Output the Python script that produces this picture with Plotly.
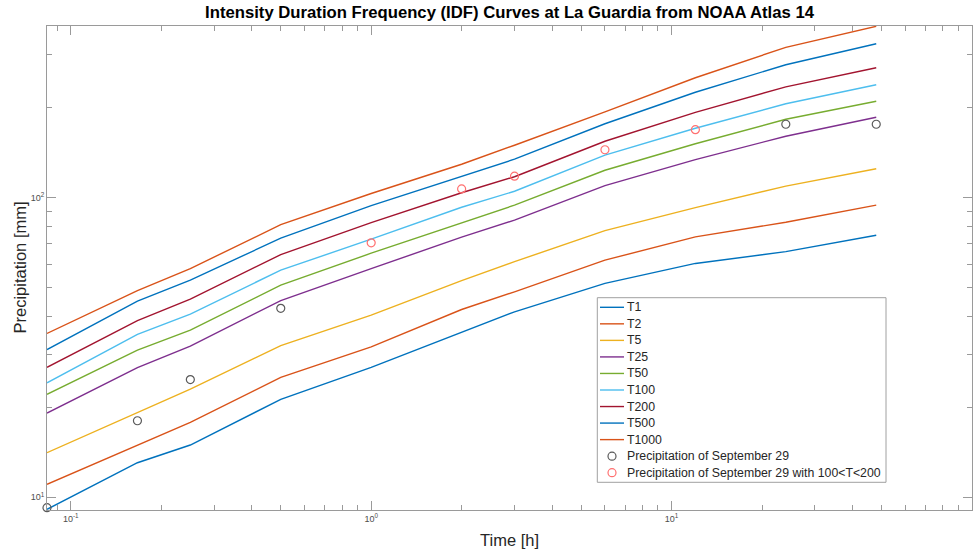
import math
import plotly.graph_objects as go

# ---------------- data ----------------
durations_h = [0.08333, 0.16667, 0.25, 0.5, 1, 2, 3, 6, 12, 24, 48]

T1 = [9.12, 13.04, 14.94, 21.22, 27.13, 35.5, 41.57, 51.68, 60.26, 65.96, 74.85]
T2 = [11.05, 14.94, 17.78, 25.12, 31.77, 42.3, 48.45, 61.8, 73.9, 82.7, 94.3]
T5 = [14.09, 19.25, 22.96, 32.06, 40.53, 52.8, 61.1, 77.5, 92.5, 109.1, 124.7]
T25 = [19.10, 27.09, 31.94, 45.29, 57.91, 73.74, 84.03, 109.5, 133.7, 160.1, 185.2]
T50 = [22.05, 30.97, 36.12, 51.02, 65.2, 82.4, 94.3, 123.3, 151.1, 182.4, 209.4]
T100 = [24.10, 34.94, 40.83, 57.25, 72.6, 92.8, 104.9, 138.4, 170.2, 205.4, 237.7]
T200 = [27.13, 38.85, 45.81, 64.48, 82.4, 103.7, 117.3, 154.0, 192.4, 234.0, 270.8]
T500 = [31.09, 45.12, 53.0, 73.17, 93.91, 117.3, 134.2, 176.2, 224.4, 277.2, 325.6]
T1000 = [35.21, 48.9, 57.91, 81.15, 103.1, 129.1, 149.4, 192.9, 250.8, 316.9, 372.4]

series_names = ["T1", "T2", "T5", "T25", "T50", "T100", "T200", "T500", "T1000"]
series_values = [T1, T2, T5, T25, T50, T100, T200, T500, T1000]
series_colors = ["#0072BD", "#D95319", "#EDB120", "#7E2F8E", "#77AC30",
                 "#4DBEEE", "#A2142F", "#0072BD", "#D95319"]

obs_black_durations = [0.08333, 0.16667, 0.25, 0.5, 24, 48]
obs_black_mm = [9.23, 18.0, 24.7, 42.7, 175.5, 175.5]
obs_red_durations = [1, 2, 3, 6, 12]
obs_red_mm = [70.6, 106.8, 117.8, 144.3, 168.3]

obs_names = ["Precipitation of September 29",
             "Precipitation of September 29 with 100<T<200"]
obs_colors = ["#5a5a5a", "#ff7070"]

x_tick_vals = [0.1, 1, 10, 100]
x_tick_text = ["10<sup>-1</sup>", "10<sup>0</sup>", "10<sup>1</sup>", "10<sup>2</sup>"]
x_minor_vals = [0.09, 0.2, 0.3, 0.4, 0.5, 0.6, 0.7, 0.8, 0.9,
                2, 3, 4, 5, 6, 7, 8, 9, 20, 30, 40, 50, 60, 70, 80, 90]
y_tick_vals = [10, 100]
y_tick_text = ["10<sup>1</sup>", "10<sup>2</sup>"]
y_minor_vals = [20, 30, 40, 50, 60, 70, 80, 90, 200, 300]

x_limits = [0.08333, 100]
y_limits = [9.07, 373.3]

# ---------------- layout constants ----------------
W, H = 979, 551
ML, MR, MT, MB = 47, 7, 26, 41
PW = W - ML - MR
PH = H - MT - MB
FONT = "Liberation Sans, Arial, Helvetica, sans-serif"
AXCOL = "#9a9a9a"
LEG_FONT = 12.3


def px_x(px):
    return (px - ML) / PW


def px_y(py):
    return (H - MB - py) / PH


fig = go.Figure()

for name, vals, col in zip(series_names, series_values, series_colors):
    fig.add_trace(go.Scatter(x=durations_h, y=vals, mode="lines", name=name,
                             line=dict(color=col, width=1.4), showlegend=False))

fig.add_trace(go.Scatter(x=obs_black_durations, y=obs_black_mm, mode="markers",
                         name=obs_names[0], showlegend=False, cliponaxis=False,
                         marker=dict(symbol="circle-open", size=8,
                                     color=obs_colors[0], line=dict(width=1.2))))
fig.add_trace(go.Scatter(x=obs_red_durations, y=obs_red_mm, mode="markers",
                         name=obs_names[1], showlegend=False, cliponaxis=False,
                         marker=dict(symbol="circle-open", size=8,
                                     color=obs_colors[1], line=dict(width=1.2))))

# ---------------- custom legend (MATLAB style) ----------------
shapes = []
annotations = []
LEG_X0, LEG_X1, LEG_Y0, LEG_Y1 = 597.3, 886, 297.7, 482.3
ROW0, DROW = 307.3, 16.54
shapes.append(dict(type="rect", xref="paper", yref="paper", layer="above",
                   x0=px_x(LEG_X0), x1=px_x(LEG_X1), y0=px_y(LEG_Y1), y1=px_y(LEG_Y0),
                   line=dict(color="#a0a0a0", width=1), fillcolor="white"))
row = 0
for name, col in zip(series_names, series_colors):
    yy = px_y(ROW0 + row * DROW)
    shapes.append(dict(type="line", xref="paper", yref="paper", layer="above",
                       x0=px_x(600), x1=px_x(624), y0=yy, y1=yy,
                       line=dict(color=col, width=1.4)))
    annotations.append(dict(xref="paper", yref="paper", x=px_x(625), y=yy,
                            xanchor="left", yanchor="middle", showarrow=False,
                            text=name, font=dict(family=FONT, size=LEG_FONT, color="#262626")))
    row += 1
for name, col in zip(obs_names, obs_colors):
    yy = px_y(ROW0 + row * DROW)
    shapes.append(dict(type="circle", xref="paper", yref="paper", layer="above",
                       xsizemode="pixel", ysizemode="pixel",
                       xanchor=px_x(612), yanchor=yy,
                       x0=-4, x1=4, y0=-4, y1=4,
                       line=dict(color=col, width=1.2)))
    annotations.append(dict(xref="paper", yref="paper", x=px_x(625), y=yy,
                            xanchor="left", yanchor="middle", showarrow=False,
                            text=name.replace("<", "&lt;"),
                            font=dict(family=FONT, size=LEG_FONT, color="#262626")))
    row += 1

# axis titles
annotations.append(dict(xref="paper", yref="paper", x=0.5, y=px_y(540),
                        xanchor="center", yanchor="middle", showarrow=False,
                        text="Time [h]", font=dict(family=FONT, size=16.5, color="#262626")))
annotations.append(dict(xref="paper", yref="paper", x=px_x(19), y=px_y(267.5),
                        xanchor="center", yanchor="middle", showarrow=False, textangle=-90,
                        text="Precipitation [mm]", font=dict(family=FONT, size=16.5, color="#262626")))

axis_common = dict(
    type="log", showgrid=False, zeroline=False,
    showline=True, linecolor=AXCOL, linewidth=1, mirror="ticks",
    ticks="inside", ticklen=9, tickcolor=AXCOL, tickwidth=1,
    tickfont=dict(family=FONT, size=9, color="#4d4d4d"),
    tickmode="array",
)

fig.update_layout(
    width=W, height=H,
    margin=dict(l=ML, r=MR, t=MT, b=MB, pad=0),
    paper_bgcolor="white", plot_bgcolor="white",
    showlegend=False,
    title=dict(text="<b>Intensity Duration Frequency (IDF) Curves at La Guardia from NOAA Atlas 14</b>",
               x=0.5, xref="paper", xanchor="center",
               y=1 - 12.5 / H, yref="container", yanchor="middle",
               font=dict(family=FONT, size=16.7, color="black")),
    xaxis=dict(**axis_common,
               range=[math.log10(x_limits[0]), math.log10(x_limits[1])],
               tickvals=x_tick_vals, ticktext=x_tick_text,
               minor=dict(tickmode="array", tickvals=x_minor_vals, ticks="inside",
                          ticklen=5, tickcolor=AXCOL, tickwidth=1, showgrid=False)),
    yaxis=dict(**axis_common,
               range=[math.log10(y_limits[0]), math.log10(y_limits[1])],
               tickvals=y_tick_vals, ticktext=y_tick_text,
               minor=dict(tickmode="array", tickvals=y_minor_vals, ticks="inside",
                          ticklen=5, tickcolor=AXCOL, tickwidth=1, showgrid=False)),
    shapes=shapes,
    annotations=annotations,
)

fig.write_html("out.html", config={"displayModeBar": False})
